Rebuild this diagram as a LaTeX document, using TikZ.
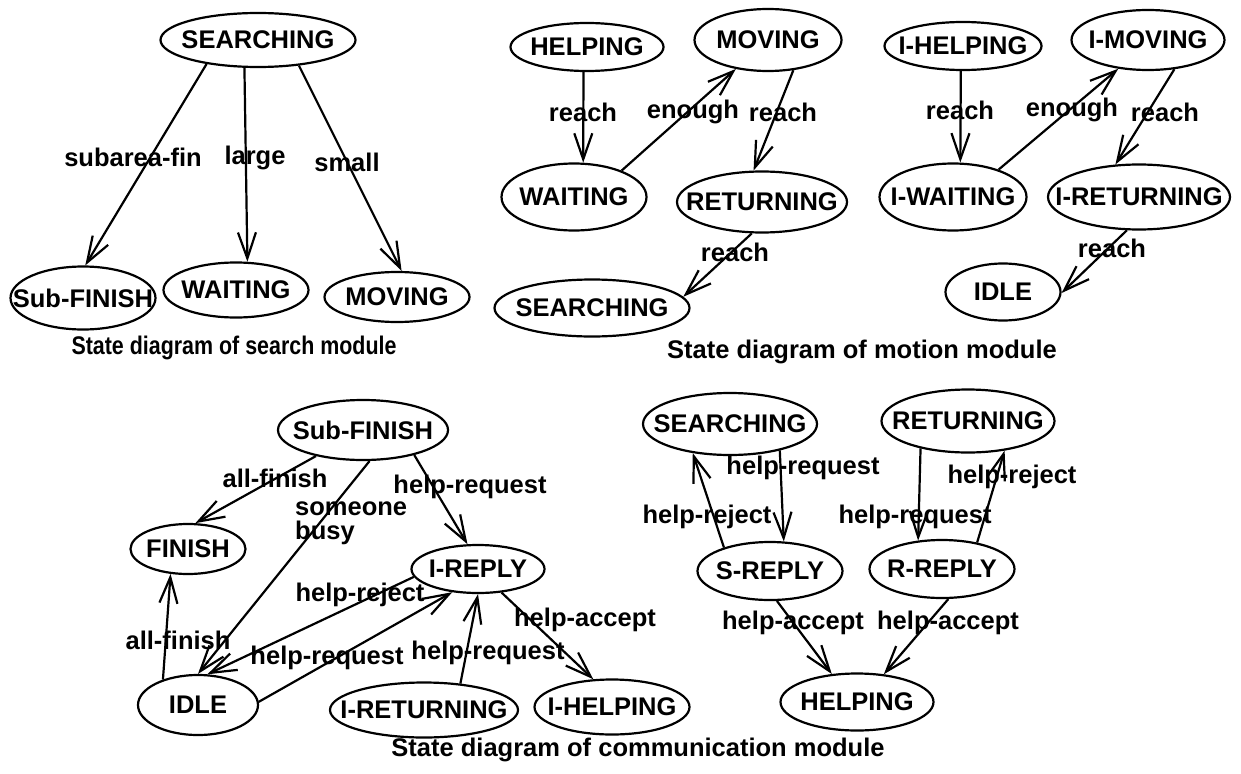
\documentclass[tikz,border=0pt]{standalone}
\usepackage{fontspec}
\setmainfont{Liberation Sans}
\usetikzlibrary{shapes.geometric,arrows.meta}
\begin{document}
\begin{tikzpicture}[x=1pt,y=-1pt,
  font=\bfseries\fontsize{25.5}{24}\selectfont,
  st/.style={ellipse, draw, line width=2.2pt, inner sep=0pt},
  tr/.style={line width=2.2pt, -{Straight Barb[length=26pt,width=18pt]}},
  lb/.style={inner sep=0pt}
]
\useasboundingbox (0,0) rectangle (1241,773);
\newcommand{\st}[6]{\node[st, minimum width=#3pt, minimum height=#4pt, label={center:#6}] (#5) at (#1,#2) {};}
% ---------- search module
\st{258}{40}{195}{54}{sa}{SEARCHING}
\st{83}{298}{145}{63}{sb}{Sub-FINISH}
\st{236}{290}{145}{55}{sc}{WAITING}
\st{397}{297}{145}{50}{sd}{MOVING}
\draw[tr] (sa.205) -- (sb.86);
\draw[tr] (sa.244) -- (sc.68);
\draw[tr] (sa.328) -- (sd.80);
\node[lb] (la1) at (133,157) {subarea-fin};
\node[lb] (la2) at (255,158) {large};
\node[lb] (la3) at (347,162) {small};
\node[lb, xscale=0.84] (ca) at (234,348) {State diagram of search module};
% ---------- motion module
\st{587}{47}{153}{48}{ma}{HELPING}
\st{768}{40}{147}{62}{mb}{MOVING}
\st{574}{197}{145}{67}{mc}{WAITING}
\st{762}{202}{170}{61}{md}{RETURNING}
\st{592}{308}{195}{57}{me}{SEARCHING}
\draw[tr] (ma.262) -- (mc.75);
\draw[tr] (mc.29) -- (mb.222);
\draw[tr] (mb.310) -- (md.105);
\draw[tr] (md.252) -- (me.7);
\node[lb] (lm1) at (583,112) {reach};
\node[lb] (lm2) at (693,112) {enough};
\node[lb] (lm3) at (783,112) {reach};
\node[lb] (lm4) at (735,252) {reach};
% ---------- motion module (I-)
\st{963}{46}{157}{48}{na}{I-HELPING}
\st{1148}{40}{153}{60}{nb}{I-MOVING}
\st{953}{197}{147}{67}{nc}{I-WAITING}
\st{1139}{197}{182}{65}{nd}{I-RETURNING}
\st{1003}{292}{115}{57}{ne}{IDLE}
\draw[tr] (na.265) -- (nc.78);
\draw[tr] (nc.31) -- (nb.224);
\draw[tr] (nb.312) -- (nd.126);
\draw[tr] (nd.250) -- (ne.359);
\node[lb] (ln1) at (960,110) {reach};
\node[lb] (ln2) at (1072,110) {enough};
\node[lb] (ln3) at (1165,112) {reach};
\node[lb] (ln4) at (1112,248) {reach};
\node[lb] (cm) at (862,352) {State diagram of motion module};
% ---------- communication module (left)
\st{363}{430}{170}{60}{ca1}{Sub-FINISH}
\st{188}{549}{115}{50}{cb1}{FINISH}
\st{478}{569}{133}{48}{cc1}{I-REPLY}
\st{198}{705}{120}{60}{cd1}{IDLE}
\st{424}{710}{188}{55}{ce1}{I-RETURNING}
\st{612}{707}{155}{55}{cf1}{I-HELPING}
\draw[tr] (ca1.209) -- (cb1.74);
\draw[tr] (ca1.282) -- (cd1.90);
\draw[tr] (ca1.334) -- (cc1.113);
\draw[tr] (cd1.144) -- (cb1.235);
\draw[tr] (cc1.187) -- (cd1.73);
\draw[tr] (cd1.3) -- (cc1.222);
\draw[tr] (ce1.36) -- (cc1.270);
\draw[tr] (cc1.315) -- (cf1.124);
\node[lb] (lc1) at (275,478) {all-finish};
\node[lb, anchor=west, align=left] (lc2) at (295,523) {someone\\busy};
\node[lb] (lc3) at (470,487) {help-request};
\node[lb] (lc4) at (178,640) {all-finish};
\node[lb] (lc5) at (360,595) {help-reject};
\node[lb] (lc6) at (327,658) {help-request};
\node[lb] (lc7) at (488,653) {help-request};
\node[lb] (lc8) at (585,620) {help-accept};
% ---------- communication module (right)
\st{730}{424}{174}{62}{ra}{SEARCHING}
\st{968}{421}{173}{63}{rb}{RETURNING}
\st{770}{571}{145}{58}{rc}{S-REPLY}
\st{942}{569}{145}{58}{rd}{R-REPLY}
\st{857}{702}{153}{57}{re}{HELPING}
\draw[tr] (rc.153) -- (ra.218);
\draw[tr] (ra.332) -- (rc.65);
\draw[tr] (rb.210) -- (rd.130);
\draw[tr] (rd.37) -- (rb.321);
\draw[tr] (rc.283) -- (re.132);
\draw[tr] (rd.282) -- (re.46);
\node[lb] (lr1) at (707,517) {help-reject};
\node[lb] (lr2) at (803,468) {help-request};
\node[lb] (lr3) at (915,517) {help-request};
\node[lb] (lr4) at (1012,477) {help-reject};
\node[lb] (lr5) at (793,623) {help-accept};
\node[lb] (lr6) at (948,623) {help-accept};
\node[lb] (cc) at (638,750) {State diagram of communication module};
\end{tikzpicture}
\end{document}
